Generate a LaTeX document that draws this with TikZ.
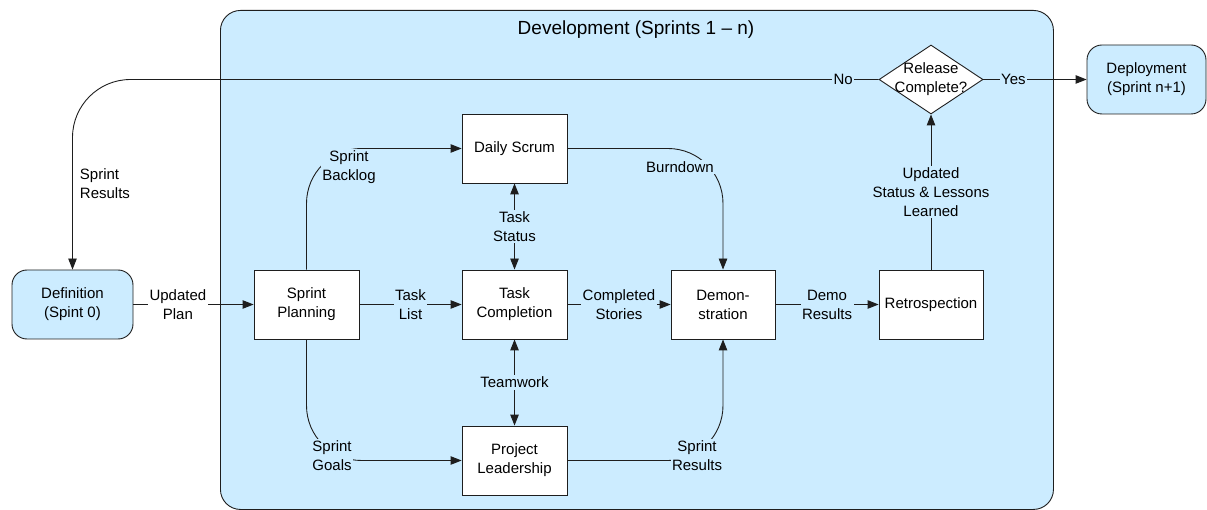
\documentclass[tikz,border=0pt]{standalone}
\usepackage{fontspec}
\setmainfont{Liberation Sans}
\usetikzlibrary{shapes.geometric,arrows.meta}
\definecolor{lblue}{RGB}{204,236,255}
\definecolor{ink}{RGB}{30,30,30}
\begin{document}
\begin{tikzpicture}[x=1pt,y=-1pt,
  font=\fontsize{15}{19}\selectfont,
  box/.style={draw=ink,line width=0.9pt,fill=white,minimum width=105pt,minimum height=69pt,align=center,inner sep=1pt},
  rbox/.style={box,fill=lblue,rounded corners=15pt},
  tip/.tip={Triangle[length=11pt,width=8.5pt]},
  conn/.style={draw=ink,line width=0.9pt,-tip},
  dconn/.style={conn,tip-tip},
  lbl/.style={fill=lblue,inner sep=1.5pt,align=center,sharp corners},
]
\useasboundingbox (0,0) rectangle (1207,510);
\node[draw=ink,line width=0.9pt,fill=lblue,rounded corners=20pt,minimum width=833pt,minimum height=499pt,anchor=north west,inner sep=0pt] (dev) at (220,10) {};
\node[font=\fontsize{19}{23}\selectfont] (title) at (636,30) {Development (Sprints 1 – n)};

\node[rbox,minimum width=121pt] (def) at (72.5,304.5) {Definition\\(Spint 0)};
\node[box] (sp) at (306.5,304.5) {Sprint\\Planning};
\node[box] (tc) at (514.5,304.5) {Task\\Completion};
\node[box] (ds) at (514.5,148.5) {Daily Scrum};
\node[box] (pl) at (514.5,460.5) {Project\\Leadership};
\node[box,minimum width=104pt] (demo) at (723,304.5) {Demon-\\stration};
\node[box,minimum width=104pt] (retro) at (931,304.5) {Retrospection};
\node[diamond,draw=ink,line width=0.9pt,fill=white,minimum width=104pt,minimum height=69pt,inner sep=0pt] (rel) at (931,79.5) {};
\node[align=center,inner sep=0pt] (reltxt) at (rel.center) {Release\\Complete?};
\node[rbox,minimum width=119pt] (dep) at (1146.5,79.5) {Deployment\\(Sprint n+1)};

\draw[conn,rounded corners=58pt] (rel.west) -| node[pos=0.022,lbl]{No} node[pos=0.774,anchor=west,align=left,inner sep=0pt,xshift=7pt]{Sprint\\Results} (def.north);
\draw[conn] (def.east) -- node[pos=0.37,lbl,fill=white]{Updated\\Plan} (sp.west);
\draw[conn] (sp.east) -- node[lbl]{Task\\List} (tc.west);
\draw[conn] (tc.east) -- node[lbl]{Completed\\Stories} (demo.west);
\draw[conn] (demo.east) -- node[lbl]{Demo\\Results} (retro.west);
\draw[conn] (retro.north) -- node[lbl]{Updated\\Status \& Lessons\\Learned} (rel.south);
\draw[dconn] (tc.north) -- node[lbl]{Task\\Status} (ds.south);
\draw[dconn] (tc.south) -- node[lbl]{Teamwork} (pl.north);
\draw[conn,rounded corners=55pt] (sp.north) |- (ds.west);
\node[lbl] (lbacklog) at (349,167) {Sprint\\Backlog};
\draw[conn,rounded corners=55pt] (ds.east) -| (demo.north);
\node[lbl] (lburn) at (680,167) {Burndown};
\draw[conn,rounded corners=55pt] (sp.south) |- (pl.west);
\node[lbl] (lgoals) at (332,456) {Sprint\\Goals};
\draw[conn,rounded corners=55pt] (pl.east) -| (demo.south);
\node[lbl] (lres) at (697,456) {Sprint\\Results};
\draw[conn] (rel.east) -- node[pos=0.29,lbl]{Yes} (dep.west);
\end{tikzpicture}
\end{document}
